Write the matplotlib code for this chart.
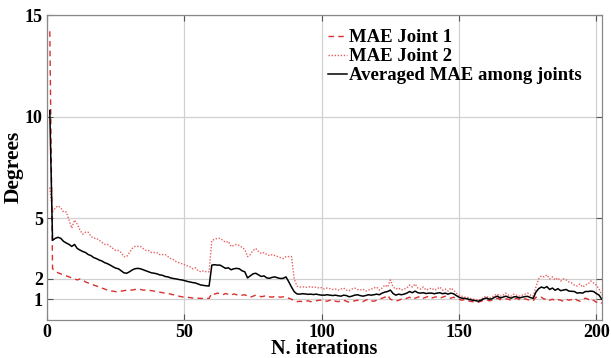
import matplotlib
matplotlib.use("Agg")
import matplotlib.pyplot as plt

iterations = list(range(1, 203))

mae_joint1 = [
    14.2, 2.5, 2.4, 2.3, 2.25, 2.2, 2.15, 2.1, 2.05,
    2.0, 1.95, 2.0, 1.95, 1.85, 1.8, 1.75, 1.7, 1.65, 1.6,
    1.55, 1.5, 1.45, 1.4, 1.4, 1.37, 1.38, 1.4, 1.42, 1.45,
    1.45, 1.45, 1.48, 1.5, 1.48, 1.45, 1.45, 1.45, 1.42, 1.4,
    1.38, 1.35, 1.32, 1.3, 1.28, 1.25, 1.22, 1.18, 1.15, 1.12,
    1.1, 1.1, 1.08, 1.06, 1.05, 1.05, 1.04, 1.04, 1.04, 1.04,
    1.29, 1.25, 1.3, 1.27, 1.22, 1.28, 1.24, 1.2, 1.26, 1.22,
    1.25, 1.2, 1.22, 1.15, 1.1, 1.15, 1.2, 1.18, 1.12, 1.15,
    1.18, 1.12, 1.1, 1.15, 1.12, 1.1, 1.12, 1.1, 1.05, 1.0,
    0.9, 0.88, 0.9, 0.88, 0.9, 0.92, 0.88, 0.9, 0.92, 0.95,
    0.95, 0.92, 0.9, 0.95, 0.98, 0.9, 0.88, 0.92, 0.95, 0.9,
    0.85, 0.88, 0.92, 0.95, 0.9, 0.88, 0.95, 1.0, 0.92, 0.9,
    0.95, 1.0, 1.05, 1.1, 1.2, 1.0, 0.95, 0.9, 0.95, 1.0,
    0.98, 1.05, 1.1, 1.0, 1.05, 1.1, 1.15, 1.05, 1.1, 1.15,
    1.05, 1.1, 1.12, 1.05, 1.1, 1.15, 1.08, 1.05, 1.1, 1.05,
    1.0, 0.95, 0.98, 0.95, 0.9, 0.88, 0.85, 0.85, 0.9, 0.95,
    0.98, 0.92, 0.95, 1.0, 1.05, 0.98, 1.0, 1.02, 1.0, 0.95,
    1.0, 1.05, 0.98, 1.0, 1.02, 0.98, 0.95, 0.92, 1.1, 1.05,
    1.1, 1.0, 1.05, 0.95, 1.0, 0.92, 0.98, 0.95, 0.9, 1.0,
    0.95, 0.98, 1.05, 0.95, 0.9, 1.0, 1.05, 1.0, 0.9, 0.95,
    0.85, 0.9, 0.8,
]

mae_joint2 = [
    6.5, 5.3, 5.5, 5.6, 5.5, 5.3, 5.3, 4.9, 4.5,
    4.9, 4.7, 4.4, 4.2, 4.3, 4.3, 4.1, 4.0, 4.0, 3.9,
    3.8, 3.7, 3.7, 3.6, 3.5, 3.4, 3.4, 3.3, 3.1, 3.1,
    3.3, 3.5, 3.6, 3.6, 3.6, 3.5, 3.4, 3.4, 3.3, 3.3,
    3.3, 3.2, 3.2, 3.2, 3.1, 3.0, 2.95, 2.85, 2.8, 2.75,
    2.7, 2.65, 2.6, 2.5, 2.55, 2.4, 2.35, 2.4, 2.35, 2.35,
    3.9, 3.95, 4.0, 4.0, 3.9, 3.8, 3.85, 3.6, 3.65, 3.7,
    3.65, 3.55, 3.45, 3.1, 3.2, 3.4, 3.5, 3.35, 3.25, 3.3,
    3.2, 3.15, 3.2, 3.15, 3.1, 3.05, 3.0, 3.1, 3.1, 3.1,
    2.0, 1.65, 1.6, 1.62, 1.58, 1.6, 1.62, 1.58, 1.6, 1.55,
    1.57, 1.5, 1.55, 1.52, 1.48, 1.5, 1.45, 1.5, 1.55, 1.45,
    1.42, 1.5, 1.55, 1.48, 1.45, 1.5, 1.4, 1.45, 1.5, 1.55,
    1.6, 1.45, 1.55, 1.7, 1.6, 1.95, 1.6, 1.5, 1.55, 1.45,
    1.5, 1.55, 1.7, 1.6, 1.75, 1.55, 1.5, 1.6, 1.45, 1.5,
    1.55, 1.45, 1.5, 1.6, 1.45, 1.5, 1.4, 1.55, 1.45, 1.3,
    1.2, 1.15, 1.1, 1.1, 1.05, 1.0, 1.0, 0.95, 1.0, 1.1,
    1.15, 1.05, 1.1, 1.2, 1.25, 1.15, 1.2, 1.3, 1.2, 1.15,
    1.25, 1.2, 1.15, 1.2, 1.25, 1.3, 1.2, 1.15, 1.6, 2.0,
    2.15, 2.1, 2.2, 2.0, 2.1, 1.95, 2.05, 1.9, 2.0, 1.95,
    1.85, 1.8, 1.7, 1.65, 1.75, 1.6, 1.7, 1.75, 1.9, 1.8,
    1.7, 1.5, 1.2,
]

mae_avg = [
    10.3, 3.9, 4.0, 4.05, 4.0, 3.85, 3.77, 3.7, 3.6,
    3.7, 3.5, 3.42, 3.35, 3.3, 3.2, 3.15, 3.05, 3.0, 2.93,
    2.88, 2.8, 2.75, 2.68, 2.6, 2.53, 2.5, 2.4, 2.3, 2.28,
    2.35, 2.44, 2.5, 2.52, 2.5, 2.45, 2.4, 2.35, 2.3, 2.28,
    2.25, 2.2, 2.18, 2.12, 2.1, 2.05, 2.02, 2.0, 1.97, 1.95,
    1.92, 1.88, 1.85, 1.82, 1.8, 1.75, 1.7, 1.68, 1.66, 1.65,
    2.68, 2.7, 2.68, 2.68, 2.6, 2.52, 2.55, 2.45, 2.5, 2.52,
    2.5, 2.4, 2.35, 2.05, 2.15, 2.25, 2.28, 2.2, 2.12, 2.15,
    2.05, 2.03, 2.08, 2.1, 2.05, 2.02, 2.03, 2.1, 1.86, 1.6,
    1.37, 1.26, 1.25, 1.27, 1.26, 1.24, 1.25, 1.23, 1.25, 1.22,
    1.2, 1.2, 1.22, 1.2, 1.18, 1.2, 1.17, 1.15, 1.2, 1.18,
    1.12, 1.15, 1.2, 1.22, 1.18, 1.15, 1.18, 1.22, 1.2, 1.22,
    1.25, 1.22, 1.3, 1.35, 1.38, 1.45, 1.28, 1.2, 1.25, 1.22,
    1.25, 1.3, 1.38, 1.32, 1.4, 1.32, 1.3, 1.32, 1.28, 1.3,
    1.3, 1.27, 1.3, 1.32, 1.27, 1.3, 1.25, 1.3, 1.27, 1.18,
    1.1, 1.05, 1.04, 1.02, 0.98, 0.95, 0.93, 0.9, 0.95, 1.02,
    1.06, 1.0, 1.02, 1.1, 1.15, 1.06, 1.1, 1.15, 1.1, 1.05,
    1.12, 1.12, 1.06, 1.1, 1.13, 1.14, 1.08, 1.04, 1.35, 1.52,
    1.6, 1.55, 1.62, 1.48, 1.55, 1.44, 1.52, 1.42, 1.45, 1.48,
    1.4, 1.39, 1.38, 1.3, 1.32, 1.3, 1.38, 1.38, 1.4, 1.38,
    1.28, 1.2, 1.0,
]

x_ticks = [0, 50, 100, 150, 200]
y_ticks = [1, 2, 5, 10, 15]
labels = ["MAE Joint 1", "MAE Joint 2", "Averaged MAE among joints"]

plt.rcParams['font.family'] = ['Liberation Serif', 'DejaVu Serif']
plt.rcParams['font.weight'] = 'bold'

fig = plt.figure(figsize=(6.11, 3.58), dpi=100)
ax = fig.add_axes([0.077, 0.1075, 0.908, 0.8505])

ax.plot(iterations, mae_joint1, color='#d93030', linestyle=(0, (4, 3)), linewidth=1.0, label=labels[0])
ax.plot(iterations, mae_joint2, color='#e86060', linestyle=(0, (1, 1.2)), linewidth=1.0, label=labels[1])
ax.plot(iterations, mae_avg, color='black', linestyle='-', linewidth=1.1, label=labels[2])

ax.set_xlim(0, 202)
ax.set_ylim(0, 15)
ax.set_xticks(x_ticks)
ax.set_yticks(y_ticks)
ax.grid(True, color='#d0d0d0', linewidth=0.9)
ax.set_axisbelow(True)
ax.tick_params(direction='in', top=True, right=True, length=4, width=0.8,
               colors='#555555', labelcolor='black', labelsize=13, pad=3)
for lab in ax.get_xticklabels() + ax.get_yticklabels():
    lab.set_fontweight('bold')
for sp in ax.spines.values():
    sp.set_color('#888888')
    sp.set_linewidth(0.9)

ax.set_xlabel('N. iterations', fontsize=14.5, fontweight='bold', labelpad=-1)
ax.set_ylabel('Degrees', fontsize=15.5, fontweight='bold', labelpad=1)

leg = ax.legend(loc='upper right', bbox_to_anchor=(0.99, 1.0), frameon=False,
                fontsize=13.5, handlelength=1.0, handletextpad=0.15,
                labelspacing=0.1, borderaxespad=0.35)
for t in leg.get_texts():
    t.set_fontweight('bold')

fig.savefig('out.png', dpi=100)
